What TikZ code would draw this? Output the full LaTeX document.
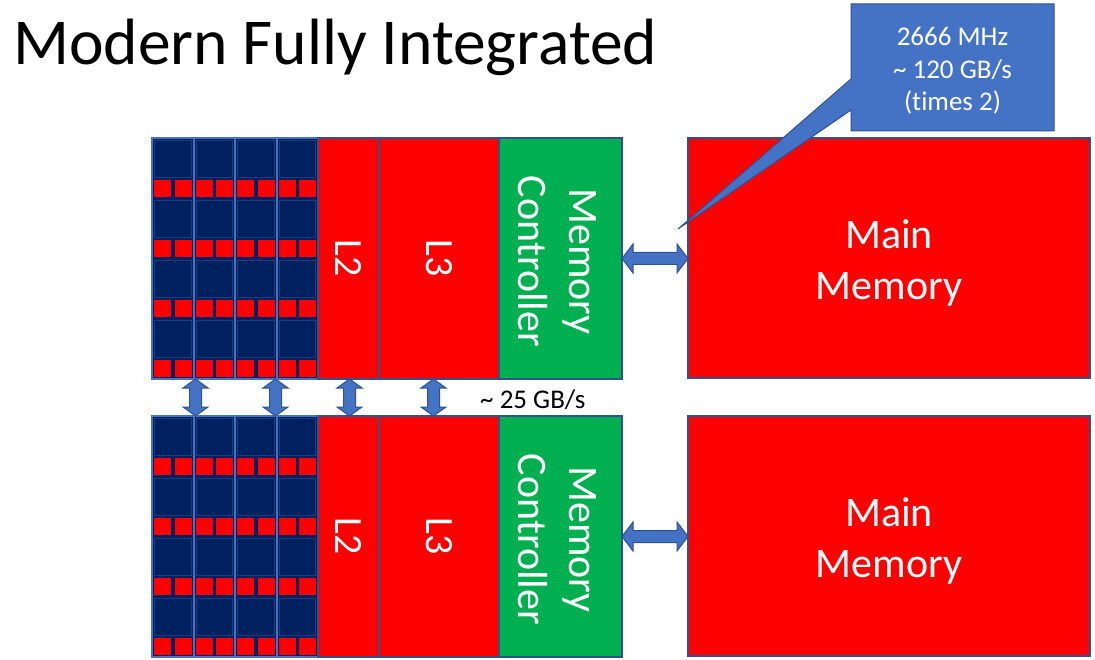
\documentclass[tikz,border=0pt]{standalone}
\usepackage{fontspec}
\setmainfont{Carlito}[Ligatures={NoCommon}]
\usetikzlibrary{calc}
\definecolor{navy}{HTML}{002060}
\definecolor{gridblue}{HTML}{4472C4}
\definecolor{edgeblue}{HTML}{2F528F}
\definecolor{pred}{HTML}{FF0000}
\definecolor{pgreen}{HTML}{00B050}
\tikzset{
  blk/.style={draw=edgeblue, line width=1.2pt, anchor=north west, inner sep=0pt, outer sep=0pt},
  lbl/.style={text=white, font=\fontsize{42}{51}\selectfont, align=center, inner sep=0pt},
  fatarrow/.style={fill=gridblue, draw=edgeblue, line width=1pt, line join=miter},
}
\newcommand\vdarr[1]{%
  \draw[fatarrow] (#1) -- ++(12.5,9) -- ++(-6.5,0) -- ++(0,19) -- ++(6.5,0) -- ++(-12.5,9)
    -- ++(-12.5,-9) -- ++(6.5,0) -- ++(0,-19) -- ++(-6.5,0) -- cycle;}
\newcommand\hdarr[1]{%
  \draw[fatarrow] (#1) -- ++(11,-14.5) -- ++(0,8.5) -- ++(44,0) -- ++(0,-8.5) -- ++(11,14.5)
    -- ++(-11,14.5) -- ++(0,-8.5) -- ++(-44,0) -- ++(0,8.5) -- cycle;}
\newcommand\chip[2]{%
  \foreach \i in {0,...,3}{
    \pgfmathsetmacro\xx{152+41.5*\i}
    \node[blk, draw=gridblue, line width=2pt, fill=navy, minimum width=41.5pt, minimum height=241pt] (#1col\i) at (\xx,#2) {};
    \foreach \j in {0,...,3}{
      \pgfmathsetmacro\yy{#2+60*\j}
      \filldraw[fill=navy, draw=edgeblue!55!navy, line width=0.6pt] (\xx+2.5,\yy+2) rectangle (\xx+39,\yy+39);
      \fill[pred] (\xx+2,\yy+42) rectangle ++(17,17);
      \fill[pred] (\xx+22.5,\yy+42) rectangle ++(17,17);
    }
  }
  \node[blk, fill=pred, minimum width=61pt, minimum height=241pt] (#1L2) at (318,#2) {};
  \node[lbl, rotate=-90, font=\fontsize{40}{48}\selectfont] (#1L2t) at (#1L2.center) {L2};
  \node[blk, fill=pred, minimum width=120pt, minimum height=241pt] (#1L3) at (379,#2) {};
  \node[lbl, rotate=-90, font=\fontsize{40}{48}\selectfont] (#1L3t) at (#1L3.center) {L3};
  \node[blk, fill=pgreen, minimum width=123pt, minimum height=241pt] (#1MC) at (499,#2) {};
  \node[lbl, rotate=-90] (#1MCt) at ($(#1MC.center)+(-3,3)$) {Memory\\Controller};
  \node[blk, fill=pred, minimum width=402pt, minimum height=240pt] (#1MM) at (688,#2) {};
  \node[lbl] (#1MMt) at ($(#1MM.center)+(0,5)$) {Main\\Memory};
  \hdarr{#1MC.east}
}
\begin{document}
\begin{tikzpicture}[x=1pt,y=-1pt]
  \useasboundingbox[fill=white] (0,0) rectangle (1095,660);
  \node[anchor=base west, inner sep=0pt, font=\fontsize{65.5}{72}\selectfont] (title) at (13,65) {Modern Fully Integrated};
  \chip{a}{138}
  \chip{b}{416}
  \foreach \x [count=\k] in {195.5,275.5,349.5,433.5}{
    \coordinate (v\k) at (\x,379);
    \vdarr{v\k}
  }
  \node[anchor=base west, inner sep=0pt, font=\fontsize{27}{32}\selectfont] (bw) at (480,408) {\textasciitilde\ 25 GB/s};
  \coordinate (tip) at (678,229);
  \draw[fill=gridblue, draw=edgeblue, line width=1pt, line join=miter]
    (851,4) -- (1054,4) -- (1054,131) -- (851,131) -- (851,110) -- (tip) -- (851,79) -- cycle;
  \node[text=white, align=center, inner sep=0pt, font=\fontsize{27}{32.5}\selectfont] (calltxt) at (952.5,71)
    {2666 MHz\\\textasciitilde\ 120 GB/s\\(times 2)};
\end{tikzpicture}
\end{document}
